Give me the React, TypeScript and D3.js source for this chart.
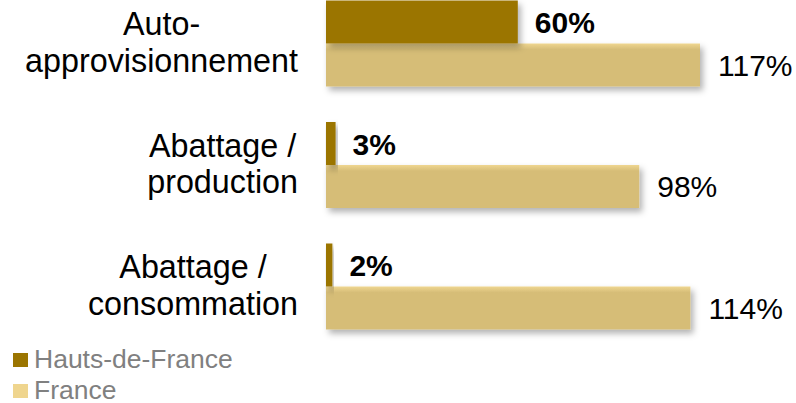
import React, { useEffect, useRef } from "react";
import * as d3 from "d3";

const categories: string[][] = [
  ["Auto-", "approvisionnement"],
  ["Abattage /", "production"],
  ["Abattage /", "consommation"],
];
const regionValues: number[] = [60, 3, 2];
const franceValues: number[] = [117, 98, 114];
const seriesNames: string[] = ["Hauts-de-France", "France"];

const W = 796;
const H = 403;
const DARK = "#9b7500";
const LIGHT = "#d6bd77";
const FONT = "'Liberation Sans', Arial, Helvetica, sans-serif";

export default function App() {
  const ref = useRef<SVGSVGElement | null>(null);

  useEffect(() => {
    const svg = d3.select(ref.current);
    svg.selectAll("*").remove();

    const defs = svg.append("defs");
    const f = defs
      .append("filter")
      .attr("id", "shadow")
      .attr("x", "-10%")
      .attr("y", "-20%")
      .attr("width", "130%")
      .attr("height", "160%");
    f.append("feDropShadow")
      .attr("dx", 3)
      .attr("dy", 4)
      .attr("stdDeviation", 3)
      .attr("flood-color", "#000")
      .attr("flood-opacity", 0.3);

    const gv = defs
      .append("linearGradient")
      .attr("id", "lightV")
      .attr("x1", 0)
      .attr("y1", 0)
      .attr("x2", 0)
      .attr("y2", 1);
    gv.append("stop").attr("offset", "0%").attr("stop-color", "#efd690");
    gv.append("stop").attr("offset", "14%").attr("stop-color", LIGHT);
    gv.append("stop").attr("offset", "100%").attr("stop-color", LIGHT);

    const gh = defs
      .append("linearGradient")
      .attr("id", "lightH")
      .attr("x1", 0)
      .attr("y1", 0)
      .attr("x2", 1)
      .attr("y2", 0);
    gh.append("stop").attr("offset", "0%").attr("stop-color", "#f0d890").attr("stop-opacity", 0.8);
    gh.append("stop").attr("offset", "3%").attr("stop-color", "#f0d890").attr("stop-opacity", 0);
    gh.append("stop").attr("offset", "100%").attr("stop-color", "#f0d890").attr("stop-opacity", 0);

    const x = d3.scaleLinear().domain([0, 117]).range([326, 700]);
    const y = d3
      .scaleBand<number>()
      .domain(d3.range(categories.length))
      .range([0.5, 329.5])
      .paddingInner(0.2922)
      .paddingOuter(0);
    const bh = y.bandwidth() / 2;

    const g = svg.append("g");

    categories.forEach((_, i) => {
      const y0 = y(i) as number;
      // light (France) bar
      const lw = x(franceValues[i]) - x(0);
      g.append("rect")
        .attr("x", x(0))
        .attr("y", y0 + bh)
        .attr("width", lw)
        .attr("height", bh)
        .attr("fill", "url(#lightV)")
        .attr("filter", "url(#shadow)");
      g.append("rect")
        .attr("x", x(0))
        .attr("y", y0 + bh)
        .attr("width", 10)
        .attr("height", bh)
        .attr("fill", "url(#lightH)");
      // dark (region) bar
      g.append("rect")
        .attr("x", x(0))
        .attr("y", y0)
        .attr("width", x(regionValues[i]) - x(0))
        .attr("height", bh)
        .attr("fill", DARK)
        .attr("filter", "url(#shadow)");

      // value labels
      g.append("text")
        .attr("x", x(regionValues[i]) + 17)
        .attr("y", y0 + bh / 2 + 11)
        .attr("font-family", FONT)
        .attr("font-size", 30)
        .attr("font-weight", "bold")
        .attr("fill", "#000")
        .text(`${regionValues[i]}%`);
      g.append("text")
        .attr("x", x(franceValues[i]) + 18)
        .attr("y", y0 + bh + bh / 2 + 11)
        .attr("font-family", FONT)
        .attr("font-size", 30)
        .attr("fill", "#000")
        .text(`${franceValues[i]}%`);

      // category labels (centered lines, block right-aligned)
      const lines = categories[i];
      const center = y0 + bh;
      const lh = 36.5;
      const tg = g.append("g");
      const texts = lines.map((ln, k) =>
        tg
          .append("text")
          .attr("y", center + (k - (lines.length - 1) / 2) * lh + 10)
          .attr("font-family", FONT)
          .attr("font-size", 32.3)
          .attr("text-anchor", "middle")
          .attr("fill", "#000")
          .text(ln)
      );
      let maxW = 0;
      texts.forEach((t) => {
        const node = t.node() as SVGTextElement;
        maxW = Math.max(maxW, node.getComputedTextLength());
      });
      texts.forEach((t) => t.attr("x", 298 - maxW / 2));
    });

    // legend
    const legendColors = [DARK, "#efd58e"];
    seriesNames.forEach((name, i) => {
      const ly = 353 + i * 31;
      svg
        .append("rect")
        .attr("x", 13)
        .attr("y", ly)
        .attr("width", 15)
        .attr("height", 14)
        .attr("fill", legendColors[i]);
      svg
        .append("text")
        .attr("x", 34)
        .attr("y", ly + 14.5)
        .attr("font-family", FONT)
        .attr("font-size", 26.5)
        .attr("fill", "#808080")
        .text(name);
    });
  }, []);

  return (
    <div style={{ position: "fixed", left: 0, top: 0, width: W, height: H, background: "#fff" }}>
      <svg ref={ref} width={W} height={H} style={{ display: "block" }} />
    </div>
  );
}
